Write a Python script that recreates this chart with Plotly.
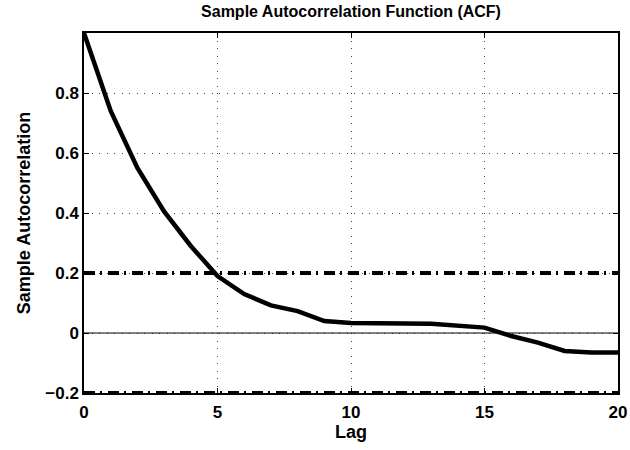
import plotly.graph_objects as go

lags = list(range(0, 21))
acf = [1.0, 0.74, 0.55, 0.405, 0.29, 0.19, 0.13, 0.092, 0.073, 0.04, 0.033,
       0.031, 0.032, 0.031, 0.026, 0.018, -0.01, -0.032, -0.06, -0.065, -0.065]
bound = 0.2
xticks = [0, 5, 10, 15, 20]
yticks = [-0.2, 0, 0.2, 0.4, 0.6, 0.8]
yticklabels = ["\u22120.2", "0", "0.2", "0.4", "0.6", "0.8"]

font = "Liberation Sans, Arial, Helvetica, sans-serif"
griddot = "1px,6.5px"
dashdot = "11px,5px,2px,6px"

fig = go.Figure()
fig.add_trace(go.Scatter(x=[0, 20], y=[0, 0], mode="lines",
                         line=dict(color="black", width=1), hoverinfo="skip"))
fig.add_trace(go.Scatter(x=[0, 20], y=[bound, bound], mode="lines",
                         line=dict(color="black", width=4, dash=dashdot), hoverinfo="skip"))
fig.add_trace(go.Scatter(x=[0, 20], y=[-bound, -bound], mode="lines",
                         line=dict(color="black", width=4, dash=dashdot), hoverinfo="skip"))
fig.add_trace(go.Scatter(x=lags, y=acf, mode="lines",
                         line=dict(color="black", width=4.5), hoverinfo="skip"))

fig.update_layout(
    width=630, height=450,
    margin=dict(l=84, r=12, t=33, b=57, autoexpand=False),
    paper_bgcolor="white", plot_bgcolor="white",
    showlegend=False,
    title=dict(text="<b>Sample Autocorrelation Function (ACF)</b>",
               x=0.5, xanchor="center", xref="paper", y=1, yref="container", yanchor="top",
               pad=dict(t=6),
               font=dict(family=font, size=16, color="black")),
    font=dict(family=font, size=17, color="black"),
)
fig.update_xaxes(range=[0, 20], tickvals=xticks, ticktext=[f"<b>{t}</b>" for t in xticks],
                 showgrid=True, gridcolor="#444", griddash=griddot, gridwidth=1,
                 showline=True, linecolor="black", linewidth=1.5, mirror="ticks",
                 ticks="inside", ticklen=5, tickcolor="black", zeroline=False, automargin=False,
                 ticklabelstandoff=3,
                 title=dict(text="<b>Lag</b>", standoff=4, font=dict(size=18)))
fig.update_yaxes(range=[-0.2, 1], tickvals=yticks, ticktext=[f"<b>{t}</b>" for t in yticklabels],
                 showgrid=True, gridcolor="#444", griddash=griddot, gridwidth=1,
                 showline=True, linecolor="black", linewidth=1.5, mirror="ticks",
                 ticks="inside", ticklen=5, tickcolor="black", zeroline=False, automargin=False,
                 title=dict(text="<b>Sample Autocorrelation</b>", standoff=10, font=dict(size=18)))

fig.write_html("out.html")
